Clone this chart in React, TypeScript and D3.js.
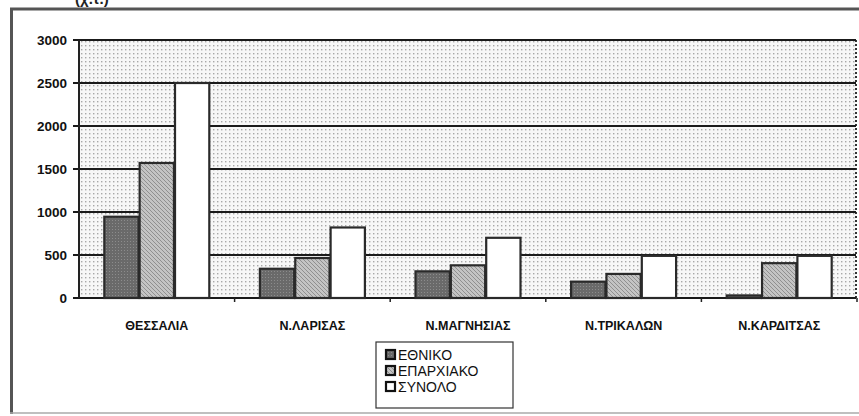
import React from "react";
import * as d3 from "d3";

const categories = ["ΘΕΣΣΑΛΙΑ", "Ν.ΛΑΡΙΣΑΣ", "Ν.ΜΑΓΝΗΣΙΑΣ", "Ν.ΤΡΙΚΑΛΩΝ", "Ν.ΚΑΡΔΙΤΣΑΣ"];
const seriesNames = ["ΕΘΝΙΚΟ", "ΕΠΑΡΧΙΑΚΟ", "ΣΥΝΟΛΟ"];
const ethniko = [945, 340, 310, 190, 30];
const eparxiako = [1570, 465, 380, 280, 405];
const synolo = [2500, 820, 700, 490, 490];
const yTicks = [0, 500, 1000, 1500, 2000, 2500, 3000];

const W = 859;
const H = 416;
const M = { left: 79, right: 856, top: 40, bottom: 298 };

export default function App() {
  const series = [ethniko, eparxiako, synolo];
  const x = d3.scaleBand<string>().domain(categories).range([M.left, M.right + 1]).paddingInner(0).paddingOuter(0);
  const inner = d3.scaleBand<number>().domain([0, 1, 2]).range([0, 105]).paddingInner(0.03);
  const y = d3.scaleLinear().domain([0, 3000]).range([M.bottom, M.top]);
  const fills = ["url(#darkFill)", "url(#hatchFill)", "#ffffff"];
  const font = "Arial, 'Liberation Sans', sans-serif";

  return (
    <svg width={W} height={H} style={{ position: "absolute", left: 0, top: 0, background: "#fff" }}>
      <defs>
        <pattern id="bgDots" width="4" height="4" patternUnits="userSpaceOnUse">
          <rect width="4" height="4" fill="#f7f7f7" />
          <rect x="1" y="1" width="1.4" height="1.4" fill="#a8a8a8" />
        </pattern>
        <pattern id="darkFill" width="3" height="3" patternUnits="userSpaceOnUse">
          <rect width="3" height="3" fill="#6a6a6a" />
          <rect x="1" y="1" width="1" height="1" fill="#8c8c8c" />
        </pattern>
        <pattern id="hatchFill" width="4" height="4" patternUnits="userSpaceOnUse">
          <rect width="4" height="4" fill="#c4c4c4" />
          <path d="M0,0 L4,4 M-1,3 L1,5 M3,-1 L5,1" stroke="#8a8a8a" strokeWidth="0.9" />
        </pattern>
      </defs>

      {/* top clipped caption */}
      <text x={75} y={4} fontFamily={font} fontWeight="bold" fontSize={15} fill="#222">(χ.τ.)</text>

      {/* outer frame */}
      <line x1={10} y1={9} x2={W} y2={9} stroke="#555" strokeWidth={3} />
      <line x1={11.5} y1={8} x2={11.5} y2={414} stroke="#555" strokeWidth={3} />
      <line x1={10} y1={413} x2={W} y2={413} stroke="#aaa" strokeWidth={1.5} />

      {/* plot area */}
      <rect x={M.left} y={M.top} width={M.right - M.left} height={M.bottom - M.top} fill="url(#bgDots)" />
      <line x1={M.right} y1={M.top} x2={M.right} y2={M.bottom} stroke="#333" strokeWidth={2} strokeDasharray="2,2" />

      {yTicks.map((t) => (
        <g key={t}>
          <line x1={M.left - 6} x2={M.right} y1={y(t)} y2={y(t)} stroke="#1a1a1a" strokeWidth={2} />
          <text x={M.left - 12} y={y(t) + 5} textAnchor="end" fontFamily={font} fontWeight="bold" fontSize={13.5} fill="#111">
            {t}
          </text>
        </g>
      ))}
      <line x1={M.left} x2={M.left} y1={M.top} y2={M.bottom} stroke="#222" strokeWidth={2} />

      {categories.map((c, i) => {
        const c0 = (x(c) as number) + (x.bandwidth() - 105) / 2;
        return (
          <g key={c}>
            {series.map((s, j) => (
              <rect
                key={j}
                x={c0 + (inner(j) as number)}
                y={y(s[i])}
                width={inner.bandwidth()}
                height={y(0) - y(s[i])}
                fill={fills[j]}
                stroke="#2a2a2a"
                strokeWidth={2.2}
              />
            ))}
            <line x1={(x(c) as number) + x.bandwidth()} x2={(x(c) as number) + x.bandwidth()} y1={M.bottom} y2={M.bottom + 4} stroke="#222" strokeWidth={1.5} />
            <text x={(x(c) as number) + x.bandwidth() / 2} y={330} textAnchor="middle" fontFamily={font} fontWeight="bold" fontSize={12.5} fill="#111">
              {c}
            </text>
          </g>
        );
      })}

      {/* legend */}
      <rect x={376} y={342} width={137} height={66} fill="#fff" stroke="#333" strokeWidth={1.2} />
      {seriesNames.map((n, j) => (
        <g key={n}>
          <rect x={386} y={350 + j * 16} width={9} height={9} fill={fills[j]} stroke="#111" strokeWidth={2.2} />
          <text x={398} y={360 + j * 16} fontFamily={font} fontSize={14} fill="#111">{n}</text>
        </g>
      ))}
    </svg>
  );
}
